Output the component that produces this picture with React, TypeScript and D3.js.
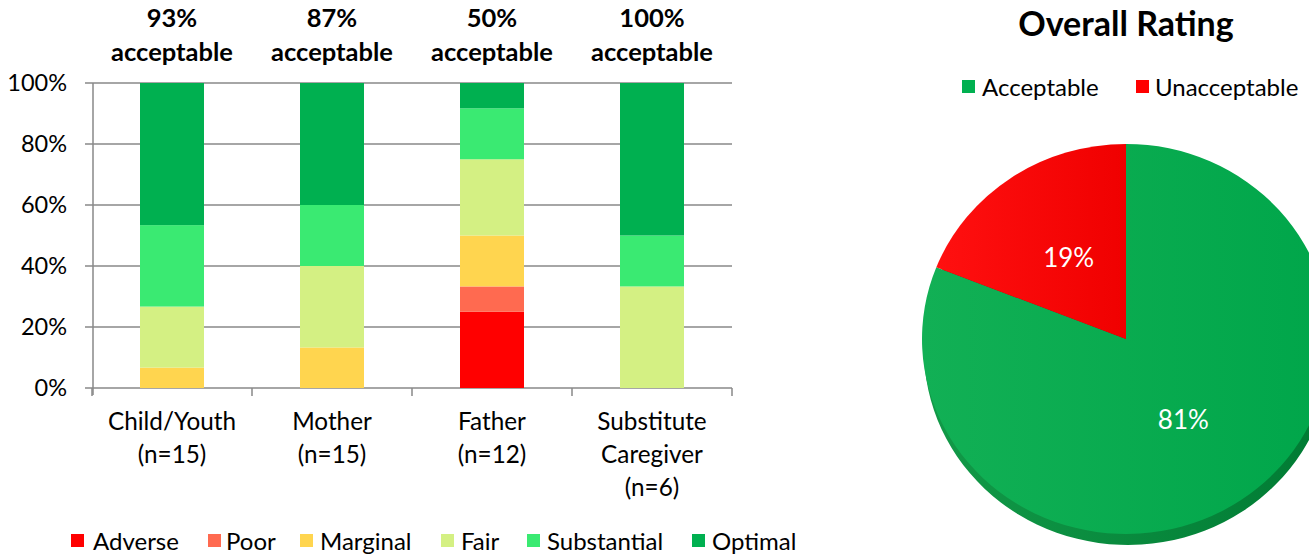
import React from "react";
import * as d3 from "d3";

const categories = ["Child/Youth", "Mother", "Father", "Substitute Caregiver"];
const catLines = [["Child/Youth", "(n=15)"], ["Mother", "(n=15)"], ["Father", "(n=12)"], ["Substitute", "Caregiver", "(n=6)"]];
const acceptableLabels = ["93%", "87%", "50%", "100%"];
const levels = ["Adverse", "Poor", "Marginal", "Fair", "Substantial", "Optimal"];
const levelColors = ["#FF0000", "#FF6A50", "#FFD54F", "#D4F083", "#3AEA72", "#00B050"];

// share of each level, per category (percent)
const adverse = [0, 0, 25, 0];
const poor = [0, 0, 8.3, 0];
const marginal = [6.7, 13.3, 16.7, 0];
const fair = [20, 26.7, 25, 33.3];
const substantial = [26.7, 20, 16.7, 16.7];
const optimal = [46.6, 40, 8.3, 50];
const yTicks = [0, 20, 40, 60, 80, 100];

const pieLabels = ["Acceptable", "Unacceptable"];
const pieValues = [81, 19];
const pieColors = ["#00B050", "#FF0000"];

const FONT = "Lato, 'Open Sans', sans-serif";

export default function App() {
  const series = [adverse, poor, marginal, fair, substantial, optimal];
  const rows = categories.map((c, i) => {
    const r: any = { cat: c };
    levels.forEach((l, j) => (r[l] = series[j][i]));
    return r;
  });
  const stacked = d3.stack<any>().keys(levels)(rows);

  const x = d3.scaleBand().domain(categories).range([92, 732]).paddingInner(0).paddingOuter(0);
  const y = d3.scaleLinear().domain([0, 100]).range([388, 83]);
  const barW = 64;

  // pie (slightly tilted, with a thin rim)
  const cx = 1126, cy = 339, rx = 204, ry = 195, depth = 11;
  const pie = d3.pie<number>().sort(null)(pieValues);
  const arc = d3.arc<any>().innerRadius(0).outerRadius(rx);
  const labelArc = d3.arc<any>().innerRadius(rx * 0.5).outerRadius(rx * 0.5);

  const legendItems = [
    { x: 71, tx: 93 },
    { x: 208, tx: 226 },
    { x: 300, tx: 320 },
    { x: 441, tx: 461 },
    { x: 527, tx: 547 },
    { x: 692, tx: 712 },
  ];

  return (
    <svg width={1309} height={554} style={{ position: "absolute", left: 0, top: 0, background: "#fff" }} fontFamily={FONT}>
      <defs>
        <linearGradient id="gGreen" x1="0" x2="1" y1="0" y2="0">
          <stop offset="0" stopColor="#12B055" />
          <stop offset="1" stopColor="#00A64A" />
        </linearGradient>
        <linearGradient id="gRed" x1="0" x2="1" y1="0" y2="0">
          <stop offset="0" stopColor="#FF1010" />
          <stop offset="1" stopColor="#F00000" />
        </linearGradient>
        <linearGradient id="gRim" x1="0" x2="1" y1="0" y2="0">
          <stop offset="0" stopColor="#129A48" />
          <stop offset="1" stopColor="#007A33" />
        </linearGradient>
      </defs>

      {/* gridlines */}
      {yTicks.map((t) => (
        <line key={t} x1={85} x2={732} y1={y(t)} y2={y(t)} stroke="#888" strokeWidth={1.5} />
      ))}
      {yTicks.map((t) => (
        <text key={"l" + t} x={67} y={y(t) + 8} textAnchor="end" fontSize={23.5} fill="#000">
          {t}%
        </text>
      ))}
      <line x1={93} x2={93} y1={83} y2={395} stroke="#888" strokeWidth={1.5} />
      {[0, 1, 2, 3, 4].map((i) => (
        <line key={"t" + i} x1={92 + i * x.bandwidth()} x2={92 + i * x.bandwidth()} y1={388} y2={396} stroke="#888" strokeWidth={1.5} />
      ))}

      {/* bars */}
      {stacked.map((s, j) =>
        s.map((d, i) =>
          d[1] - d[0] > 0 ? (
            <rect
              key={j + "-" + i}
              x={(x(categories[i]) as number) + (x.bandwidth() - barW) / 2}
              width={barW}
              y={y(d[1])}
              height={y(d[0]) - y(d[1])}
              fill={levelColors[j]}
            />
          ) : null
        )
      )}

      {/* acceptable labels */}
      {categories.map((c, i) => {
        const cxx = (x(c) as number) + x.bandwidth() / 2;
        return (
          <g key={"a" + i} fontWeight="bold" fontSize={25.5} textAnchor="middle" fill="#000">
            <text x={cxx} y={27}>{acceptableLabels[i]}</text>
            <text x={cxx} y={61}>acceptable</text>
          </g>
        );
      })}

      {/* category labels */}
      {catLines.map((lines, i) => {
        const cxx = (x(categories[i]) as number) + x.bandwidth() / 2;
        return (
          <g key={"c" + i} fontSize={24.3} textAnchor="middle" fill="#000">
            {lines.map((ln, k) => (
              <text key={k} x={cxx} y={430 + k * 33}>{ln}</text>
            ))}
          </g>
        );
      })}

      {/* bottom legend */}
      {levels.map((l, j) => (
        <g key={"lg" + j}>
          <rect x={legendItems[j].x} y={534} width={13} height={13} fill={levelColors[j]} />
          <text x={legendItems[j].tx} y={550} fontSize={24} fill="#000">{l}</text>
        </g>
      ))}

      {/* pie */}
      <text x={1126} y={36} textAnchor="middle" fontWeight="bold" fontSize={34} fill="#000">
        Overall Rating
      </text>
      <rect x={962} y={80} width={13} height={13} fill={pieColors[0]} />
      <text x={982} y={96} fontSize={24} fill="#000">{pieLabels[0]}</text>
      <rect x={1136} y={80} width={13} height={13} fill={pieColors[1]} />
      <text x={1155} y={96} fontSize={24} fill="#000">{pieLabels[1]}</text>

      <g transform={`translate(${cx + 2},${cy + depth}) scale(1,${ry / rx})`}>
        {pie.map((p, i) => (
          <path key={"d" + i} d={arc(p) as string} fill={i === 0 ? "url(#gRim)" : "#A00000"} />
        ))}
      </g>
      <g transform={`translate(${cx},${cy}) scale(1,${ry / rx})`}>
        {pie.map((p, i) => (
          <path key={"p" + i} d={arc(p) as string} fill={i === 0 ? "url(#gGreen)" : "url(#gRed)"} />
        ))}
      </g>
      {pie.map((p, i) => {
        const [lx, ly] = labelArc.centroid(p);
        return (
          <text key={"pl" + i} x={cx + lx} y={cy + ly * (ry / rx) + 9} textAnchor="middle" fontSize={26} fill="#fff">
            {pieValues[i]}%
          </text>
        );
      })}
    </svg>
  );
}
